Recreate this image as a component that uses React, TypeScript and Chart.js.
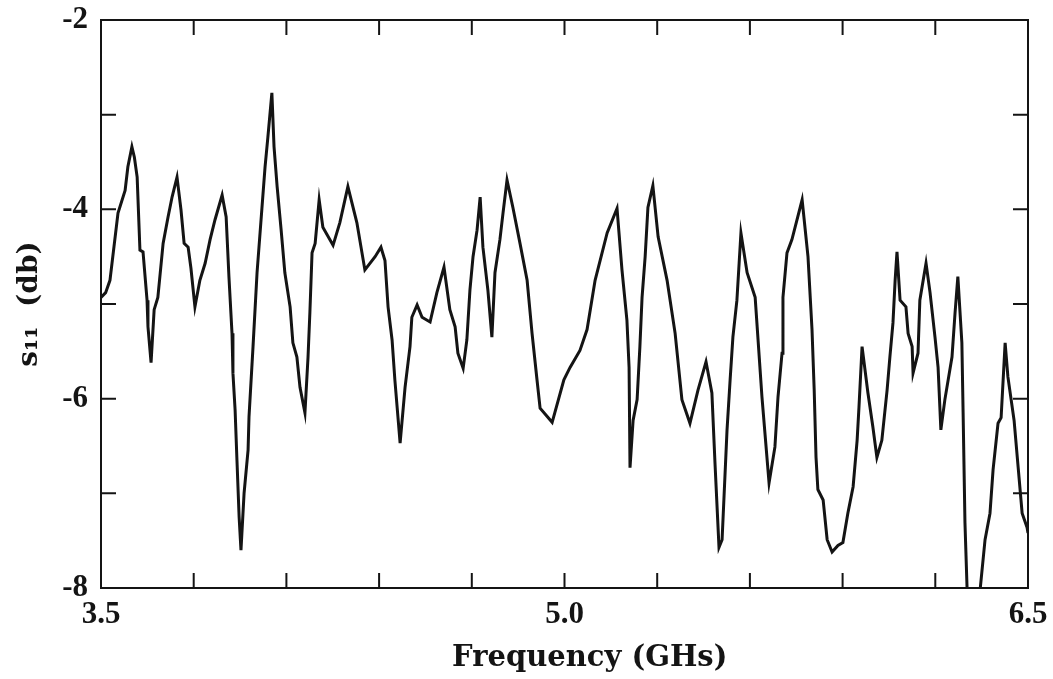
import React, { useEffect, useRef } from "react";
import { Chart, registerables } from "chart.js";

Chart.register(...registerables);

// Frequency samples (GHz)
const freqGHz = [
  3.5, 3.515, 3.529, 3.555, 3.578, 3.587, 3.6, 3.608, 3.617, 3.626, 3.636, 3.649, 3.652, 3.662, 3.672, 3.684,
  3.701, 3.717, 3.73, 3.746, 3.759, 3.769, 3.782, 3.791, 3.804, 3.82, 3.837, 3.853, 3.869, 3.892, 3.905, 3.914,
  3.924, 3.927, 3.934, 3.94, 3.947, 3.953, 3.963, 3.976, 3.979, 3.992,
  4.005, 4.021, 4.031, 4.04, 4.053, 4.06, 4.07, 4.083, 4.095, 4.112, 4.121, 4.134, 4.144, 4.16, 4.17, 4.176,
  4.183, 4.193, 4.206, 4.218, 4.251, 4.273, 4.299, 4.328, 4.354, 4.387, 4.406, 4.419, 4.429, 4.442, 4.451,
  4.468, 4.484,
  4.5, 4.506, 4.523, 4.539, 4.565, 4.587, 4.61, 4.629, 4.646, 4.655, 4.672, 4.684, 4.694, 4.704, 4.717, 4.727,
  4.736, 4.752, 4.765, 4.775, 4.791, 4.801, 4.814, 4.833, 4.856, 4.879, 4.895, 4.911, 4.921, 4.96, 4.998,
  5.018, 5.05, 5.073, 5.099, 5.138, 5.17, 5.186, 5.202, 5.209, 5.212, 5.222, 5.235, 5.244, 5.251, 5.261, 5.27,
  5.286, 5.303, 5.332, 5.358, 5.38, 5.406, 5.432, 5.458, 5.477, 5.487,
  5.5, 5.51, 5.526, 5.536, 5.545, 5.558, 5.571, 5.591, 5.617, 5.639, 5.662, 5.681, 5.691, 5.704, 5.707, 5.72,
  5.736, 5.769, 5.788, 5.801, 5.808, 5.814, 5.82, 5.837, 5.85, 5.866, 5.885, 5.901, 5.917, 5.934, 5.947, 5.953,
  5.963, 5.982,
  5.998, 6.011, 6.027, 6.044, 6.053, 6.063, 6.07, 6.076, 6.086, 6.105, 6.112, 6.125, 6.128, 6.144, 6.15, 6.17,
  6.183, 6.199, 6.209, 6.218, 6.231, 6.254, 6.264, 6.273, 6.286, 6.29, 6.296, 6.303, 6.322, 6.345, 6.361,
  6.377, 6.387, 6.403, 6.413, 6.426, 6.435, 6.455, 6.468, 6.481, 6.497, 6.5,
];

// Return loss s11 (dB)
const s11dB = [
  -4.93, -4.88, -4.75, -4.04, -3.8, -3.55, -3.34, -3.45, -3.66, -4.43, -4.45, -4.96, -5.24, -5.62, -5.06, -4.93,
  -4.36, -4.08, -3.87, -3.66, -4.01, -4.36, -4.4, -4.62, -5.03, -4.75, -4.57, -4.32, -4.11, -3.85, -4.08, -4.71,
  -5.31, -5.73, -6.12, -6.65, -7.25, -7.6, -7.0, -6.54, -6.19, -5.45,
  -4.67, -3.98, -3.55, -3.24, -2.77, -3.34, -3.76, -4.22, -4.67, -5.03, -5.41, -5.56, -5.88, -6.15, -5.56, -5.09,
  -4.46, -4.36, -3.9, -4.19, -4.38, -4.14, -3.76, -4.14, -4.64, -4.5, -4.4, -4.54, -5.03, -5.38, -5.8,
  -6.47, -5.88,
  -5.45, -5.14, -5.01, -5.14, -5.19, -4.88, -4.61, -5.06, -5.24, -5.52, -5.68, -5.38, -4.85, -4.5, -4.22, -3.87,
  -4.4, -4.85, -5.35, -4.67, -4.32, -4.04, -3.69, -3.98, -4.36, -4.75, -5.31, -5.8, -6.1, -6.25, -5.8,
  -5.67, -5.49, -5.27, -4.75, -4.25, -3.99, -4.64, -5.17, -5.67, -6.73, -6.23, -6.01, -5.45, -4.93, -4.5, -3.98,
  -3.75, -4.29, -4.75, -5.31, -6.01, -6.26, -5.91, -5.61, -5.94, -6.68,
  -7.57, -7.49, -6.33, -5.8, -5.35, -4.96, -4.25, -4.67, -4.93, -5.98, -6.89, -6.51, -5.98, -5.52, -4.93, -4.46,
  -4.32, -3.9, -4.5, -5.27, -5.9, -6.62, -6.96, -7.07, -7.49, -7.62, -7.55, -7.52, -7.21, -6.93, -6.44, -6.09,
  -5.45, -5.94,
  -6.3, -6.62, -6.44, -5.91, -5.56, -5.2, -4.75, -4.45, -4.96, -5.03, -5.31, -5.45, -5.73, -5.52, -4.96, -4.57,
  -4.88, -5.35, -5.67, -6.33, -6.01, -5.56, -5.09, -4.71, -5.41, -6.15, -7.31, -8.02, -8.6, -8.02, -7.49,
  -7.21, -6.75, -6.26, -6.2, -5.41, -5.77, -6.23, -6.72, -7.21, -7.36, -7.42,
];

const xTickValues = [3.5, 3.8, 4.1, 4.4, 4.7, 5.0, 5.3, 5.6, 5.9, 6.2, 6.5];
const xTickLabels = ["3.5", "", "", "", "", "5.0", "", "", "", "", "6.5"];
const yTickValues = [-8, -7, -6, -5, -4, -3, -2];
const yTickLabels = ["-8", "", "-6", "", "-4", "", "-2"];

const xTitle = "     Frequency (GHs)";
const yTitle = "s\u2081\u2081  (db)";

const INK = "#141414";

const frameTicks = {
  id: "frameTicks",
  afterDatasetsDraw(chart: any) {
    const { ctx, chartArea, scales } = chart;
    const { left, right, top, bottom } = chartArea;
    const len = 15;
    ctx.save();
    ctx.strokeStyle = INK;
    ctx.lineWidth = 2;
    ctx.strokeRect(left, top, right - left, bottom - top);
    ctx.beginPath();
    xTickValues.forEach((v, i) => {
      if (i === 0 || i === xTickValues.length - 1) return;
      const px = scales.x.getPixelForValue(v);
      ctx.moveTo(px, bottom);
      ctx.lineTo(px, bottom - len);
      ctx.moveTo(px, top);
      ctx.lineTo(px, top + len);
    });
    yTickValues.forEach((v, i) => {
      if (i === 0 || i === yTickValues.length - 1) return;
      const py = scales.y.getPixelForValue(v);
      ctx.moveTo(left, py);
      ctx.lineTo(left + len, py);
      ctx.moveTo(right, py);
      ctx.lineTo(right - len, py);
    });
    ctx.stroke();
    ctx.restore();
  },
};

export default function App() {
  const canvasRef = useRef<HTMLCanvasElement | null>(null);

  useEffect(() => {
    if (!canvasRef.current) return;
    const points = freqGHz.map((f, i) => ({ x: f, y: s11dB[i] }));
    const chart = new Chart(canvasRef.current, {
      type: "line",
      data: {
        datasets: [
          {
            data: points,
            borderColor: INK,
            borderWidth: 3,
            pointRadius: 0,
            tension: 0,
            fill: false,
          },
        ],
      },
      options: {
        animation: false,
        responsive: true,
        maintainAspectRatio: false,
        layout: { padding: { left: 0, top: 20, right: 25, bottom: 0 } },
        plugins: {
          legend: { display: false },
          tooltip: { enabled: false },
        },
        scales: {
          x: {
            type: "linear",
            min: 3.5,
            max: 6.5,
            afterBuildTicks: (scale: any) => {
              scale.ticks = xTickValues.map((v) => ({ value: v }));
            },
            afterFit: (scale: any) => {
              scale.height = 91;
              scale.paddingLeft = 0;
              scale.paddingRight = 0;
            },
            grid: { display: false, drawTicks: false },
            border: { display: false },
            ticks: {
              autoSkip: false,
              maxRotation: 0,
              padding: 8,
              color: INK,
              font: { family: "Liberation Serif", weight: "bold", size: 31 },
              callback: (_v: any, i: number) => xTickLabels[i],
            },
            title: {
              display: true,
              text: xTitle,
              color: INK,
              font: { family: "DejaVu Serif", weight: "bold", size: 29 },
              padding: { top: 0, bottom: 3 },
            },
          },
          y: {
            type: "linear",
            min: -8,
            max: -2,
            afterBuildTicks: (scale: any) => {
              scale.ticks = yTickValues.map((v) => ({ value: v }));
            },
            afterFit: (scale: any) => {
              scale.width = 101;
              scale.paddingTop = 0;
              scale.paddingBottom = 0;
            },
            grid: { display: false, drawTicks: false },
            border: { display: false },
            ticks: {
              autoSkip: false,
              padding: 13,
              color: INK,
              font: { family: "Liberation Serif", weight: "bold", size: 31 },
              callback: (_v: any, i: number) => yTickLabels[i],
            },
            title: {
              display: true,
              text: yTitle,
              color: INK,
              font: { family: "DejaVu Serif", weight: "bold", size: 28 },
              padding: { top: 13, bottom: 0 },
            },
          },
        },
      },
      plugins: [frameTicks],
    });
    return () => chart.destroy();
  }, []);

  return (
    <div style={{ position: "absolute", left: 0, top: 0, width: 1053, height: 679, background: "#fff" }}>
      <canvas ref={canvasRef} />
    </div>
  );
}
